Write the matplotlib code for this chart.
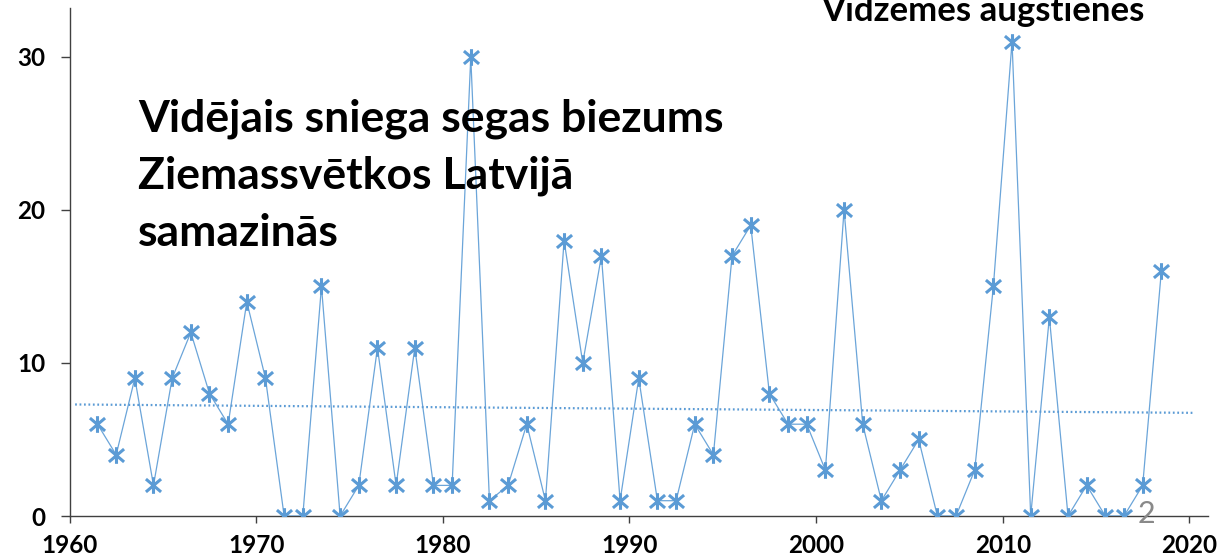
import numpy as np
import matplotlib
matplotlib.use('Agg')
import matplotlib.pyplot as plt
from matplotlib.path import Path

# ---- data ----
years = list(range(1961, 2019))
depth = [6, 4, 9, 2, 9, 12, 8, 6, 14, 9,
         0, 0, 15, 0, 2, 11, 2, 11, 2, 2,
         30, 1, 2, 6, 1, 18, 10, 17, 1, 9,
         1, 1, 6, 4, 17, 19, 8, 6, 6, 3,
         20, 6, 1, 3, 5, 0, 0, 3, 15, 31,
         0, 13, 0, 2, 0, 0, 2, 16]
x_ticks = [1960, 1970, 1980, 1990, 2000, 2010, 2020]
y_ticks = [0, 10, 20, 30]
title_lines = ["Vidējais sniega segas biezums", "Ziemassvētkos Latvijā", "samazinās"]
top_label = "Vidzemes augstienēs"
slide_no = "2"

# ---- style ----
BLUE = '#5B9BD5'
AX = '#404040'
FONT = ['Lato', 'DejaVu Sans']
W, H = 1231, 557

fig = plt.figure(figsize=(W / 100, H / 100), dpi=100)
ax = fig.add_axes([69.5 / W, (H - 516) / H, (1208 - 69.5) / W, (516 - 8) / H])

x = np.array(years, dtype=float) + 0.5
y = np.array(depth, dtype=float)

star = Path([(-1, -0.85), (1, 0.85), (-1, 0.85), (1, -0.85), (0, -1.1), (0, 1.1)],
            [Path.MOVETO, Path.LINETO, Path.MOVETO, Path.LINETO, Path.MOVETO, Path.LINETO])

ax.plot(x, y, color=BLUE, lw=0.9, alpha=0.9, zorder=3)
ax.plot(x, y, ls='none', marker=star, ms=12, mec=BLUE, mew=2.2, mfc='none', zorder=4)

# linear trend line
k, b = np.polyfit(x, y, 1)
tx = np.array([1960.3, 2020.3])
ax.plot(tx, k * tx + b, color=BLUE, lw=1.6, ls=(0, (0.8, 1.2)), zorder=2)

ax.set_xlim(1960, 2021)
ax.set_ylim(0, 33.2)
ax.set_xticks(x_ticks)
ax.set_yticks(y_ticks)
for s in ['top', 'right']:
    ax.spines[s].set_visible(False)
for s in ['left', 'bottom']:
    ax.spines[s].set_color(AX)
    ax.spines[s].set_linewidth(1.0)
ax.tick_params(axis='x', direction='out', length=5, width=1, color=AX, pad=8)
ax.tick_params(axis='y', direction='out', length=6.5, width=1, color=AX, pad=11)
for lab in ax.get_xticklabels() + ax.get_yticklabels():
    lab.set_fontfamily(FONT)
    lab.set_fontweight('bold')
    lab.set_fontsize(17.5)
    lab.set_color('black')

# headline text
for i, line in enumerate(title_lines):
    fig.text(138 / W, 1 - (132 + 57 * i) / H, line, family=FONT, fontweight='bold',
             fontsize=32, color='black', va='baseline', ha='left')

fig.text(983 / W, 1 - 21 / H, top_label, family=FONT, fontweight='bold',
         fontsize=25, color='black', va='baseline', ha='center')

fig.text(1146 / W, 1 - 523 / H, slide_no, family=FONT, fontsize=22,
         color='#898989', va='baseline', ha='center')

fig.savefig('out.png', dpi=100)
